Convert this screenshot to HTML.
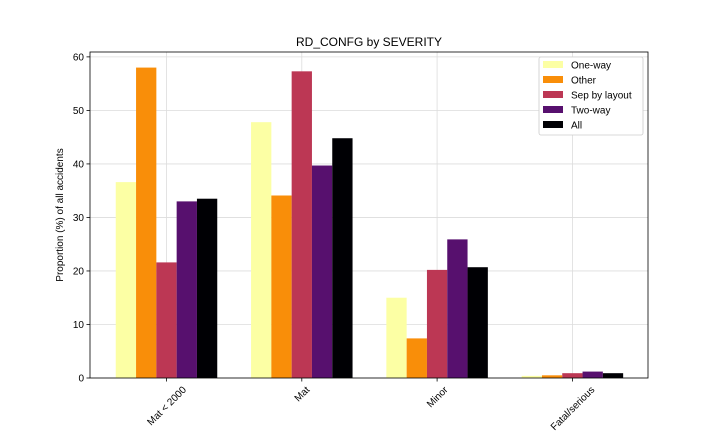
<!DOCTYPE html>
<html><head><meta charset="utf-8"><style>
body{margin:0;background:#fff;font-family:"Liberation Sans","DejaVu Sans",sans-serif}
</style></head><body>
<svg id="chart" width="720" height="432" xmlns="http://www.w3.org/2000/svg" font-family="Liberation Sans, DejaVu Sans, sans-serif">
<text x="369" y="46" text-anchor="middle" font-size="12">RD_CONFG by SEVERITY</text>
<g id="grid"></g><g id="bars"></g><g id="axes"></g><g id="legend"></g>
</svg>
<script>
const categories=["Mat < 2000","Mat","Minor","Fatal/serious"];
const seriesNames=["One-way","Other","Sep by layout","Two-way","All"];
const colors=["#fcffa4","#f98e09","#bc3754","#57106e","#000004"];
const oneWay=[36.6,47.8,15.0,0.4];
const other=[58.0,34.1,7.4,0.5];
const sepByLayout=[21.6,57.3,20.2,0.9];
const twoWay=[33.0,39.7,25.9,1.2];
const allRoads=[33.5,44.8,20.7,0.9];
const yTicks=[0,10,20,30,40,50,60];
const series=[oneWay,other,sepByLayout,twoWay,allRoads];
const NS="http://www.w3.org/2000/svg";
const L=90,R=648,T=52,B=378;
const y=v=>B-v*5.352;
const x=i=>166.5+i*135.3;
const bw=20.3;
function mk(tag,attrs,parent,text){const e=document.createElementNS(NS,tag);for(const k in attrs)e.setAttribute(k,attrs[k]);if(text!==undefined)e.textContent=text;document.getElementById(parent).appendChild(e);return e;}
yTicks.forEach(t=>{
 let g=mk('line',{x1:L,x2:R,y1:y(t),y2:y(t),stroke:'#dcdcdc','stroke-width':0.8},'grid');
 
 
 let tk=mk('line',{x1:L-3.5,x2:L,y1:y(t),y2:y(t),stroke:'#000','stroke-width':0.8},'axes');
 
 
 let lb=mk('text',{x:L-6,y:y(t)+3.5,'text-anchor':'end','font-size':10},'axes',t);
 
 
});
categories.forEach((c,i)=>{
 let g=mk('line',{x1:x(i),x2:x(i),y1:T,y2:B,stroke:'#dcdcdc','stroke-width':0.8},'grid');
 
 
 let tk=mk('line',{x1:x(i),x2:x(i),y1:B,y2:B+3.5,stroke:'#000','stroke-width':0.8},'axes');
 
 
 let lb=mk('text',{x:0,y:3.5,'text-anchor':'middle','font-size':10},'axes',c);
 
 
 const len=lb.getComputedTextLength();
 const box=(len+11)*0.7071;
 lb.setAttribute('transform',`translate(${x(i)} ${B+6+box/2}) rotate(-45)`);
 series.forEach((s,j)=>{
  let r=mk('rect',{x:x(i)+(j-2.5)*bw,y:y(s[i]),width:bw,height:B-y(s[i]),fill:colors[j]},'bars');
  
  
 });
});
let fr=mk('rect',{x:L,y:T,width:R-L,height:B-T,fill:'none',stroke:'#000','stroke-width':0.8},'axes');


let yt=mk('text',{x:0,y:0,'text-anchor':'middle','font-size':10,transform:`translate(63 ${(T+B)/2}) rotate(-90)`},'axes','Proportion (%) of all accidents');


let lbox=mk('rect',{x:539,y:57,width:104,height:78,fill:'#fff',stroke:'#ccc','stroke-width':0.8,rx:2},'legend');


seriesNames.forEach((n,j)=>{
 let sw=mk('rect',{x:543,y:61+j*15,width:20,height:7,fill:colors[j]},'legend');
 
 
 let t=mk('text',{x:571,y:68.5+j*15,'font-size':10},'legend',n);
 
 
});
</script>
</body></html>
